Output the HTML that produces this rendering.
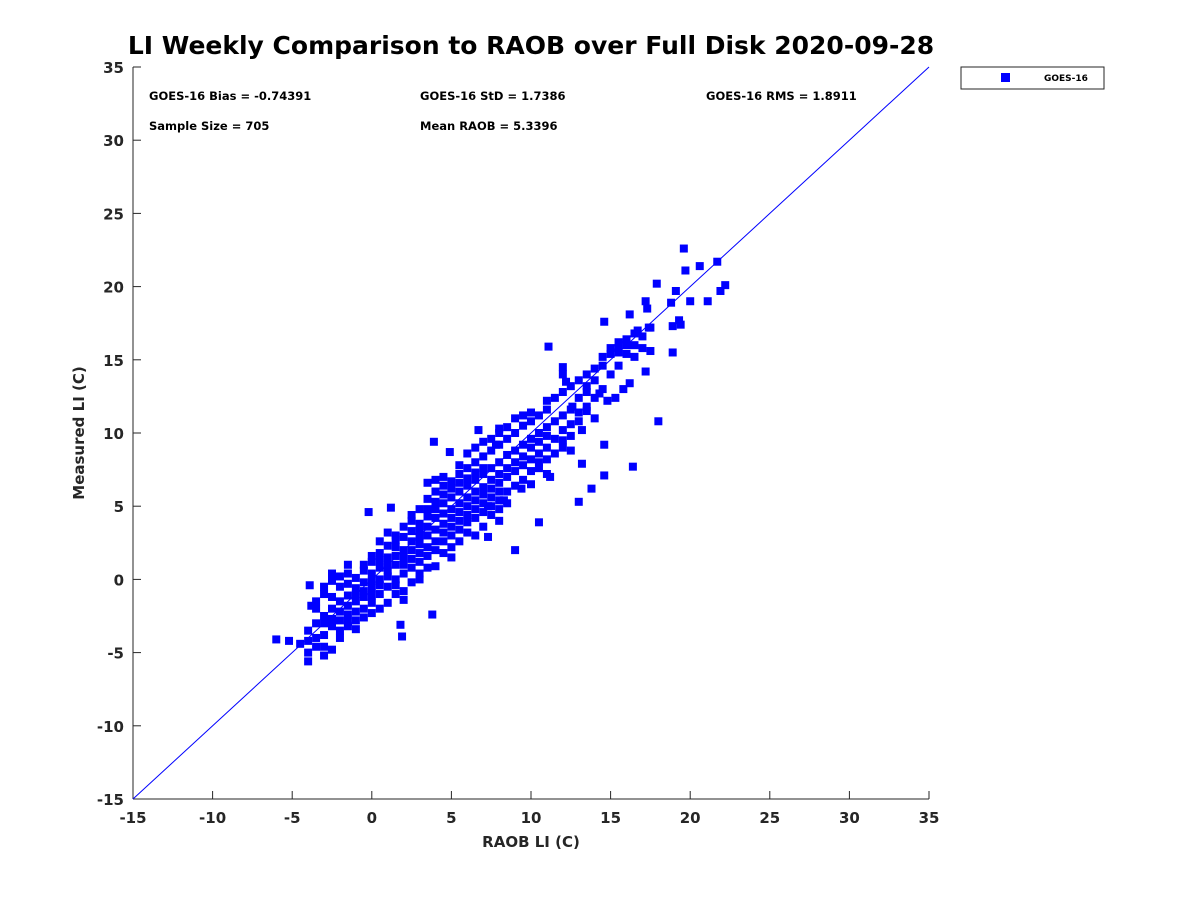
<!DOCTYPE html>
<html><head><meta charset="utf-8"><style>
body{margin:0;background:#fff;}
svg text{font-family:"DejaVu Sans","Liberation Sans",sans-serif;font-weight:bold;fill:#262626;}
</style></head><body>
<svg id="chart" width="1200" height="900" xmlns="http://www.w3.org/2000/svg">
<rect width="1200" height="900" fill="#fff"/>
<text x="531" y="54" font-size="25" text-anchor="middle" style="fill:#000">LI Weekly Comparison to RAOB over Full Disk 2020-09-28</text>
<g id="axes"></g>
<g id="marks"></g>
<g font-size="11.5">
<text x="149" y="100" style="fill:#000">GOES-16 Bias = -0.74391</text>
<text x="420" y="100" style="fill:#000">GOES-16 StD = 1.7386</text>
<text x="706" y="100" style="fill:#000">GOES-16 RMS = 1.8911</text>
<text x="149" y="130" style="fill:#000">Sample Size = 705</text>
<text x="420" y="130" style="fill:#000">Mean RAOB = 5.3396</text>
</g>
<g>
<rect x="961" y="67" width="143" height="22" fill="#fff" stroke="#262626" stroke-width="1"/>
<rect x="1001" y="73" width="9" height="9" fill="#0000ff"/>
<text x="1044" y="81" font-size="9" style="fill:#000">GOES-16</text>
</g>
<text x="531" y="847" font-size="15" text-anchor="middle">RAOB LI (C)</text>
<text transform="translate(84,433) rotate(-90)" font-size="15" text-anchor="middle">Measured LI (C)</text>
</svg>
<script>
const xTicks=[-15,-10,-5,0,5,10,15,20,25,30,35];
const yTicks=[-15,-10,-5,0,5,10,15,20,25,30,35];
const outlierX=[-6,-5.2,-4.5,-4,-3.9,-3.8,-3,-2.5,-1.5,-0.2,1.2,1.8,1.9,3.8,3.9,4.9,6.7,7.3,8,9.0,10.5,10.0,11.1,12.2,12.0,13.0,13.8,14.6,14.6,14.6,16.4,18,16.2,17.2,17.3,17.9,19.1,19.6,19.7,20.6,21.7,22.2,21.9,21.1,20.0,18.8,19.3,19.4,18.9,18.9,17.2,17.4,16.7,16,15.5,16.2,15.8,15.3,14.8,14.3,13.5,12.6,13.2,12,12.5,13.2,11.2,11.0,10.5,9.4,8.3,8.0,7.3,7.8];
const outlierY=[-4.1,-4.2,-4.4,-5.6,-0.4,-1.8,-5.2,0.4,1.0,4.6,4.9,-3.1,-3.9,-2.4,9.4,8.7,10.2,2.9,10.3,2.0,3.9,6.5,15.9,13.5,14.5,5.3,6.2,7.1,9.2,17.6,7.7,10.8,18.1,19.0,18.5,20.2,19.7,22.6,21.1,21.4,21.7,20.1,19.7,19.0,19.0,18.9,17.7,17.4,17.3,15.5,14.2,17.2,17,16,15.5,13.4,13.0,12.4,12.2,12.7,11.5,11.8,10.2,9.5,8.8,7.9,7.0,7.2,8,6.2,5.4,4.0,5,9.2];
const raobCols=[-4,-3.5,-3,-2.5,-2,-1.5,-1,-0.5,0,0.5,1,1.5,2,2.5,3,3.5,4,4.5,5,5.5,6,6.5,7,7.5,8,8.5,9,9.5,10,10.5,11,11.5,12,12.5,13,13.5,14,14.5,15,15.5,16,16.5,17,17.5];
const measuredByCol=[
[-5,-3.5,-4.2],[-3,-4.6,-2,-1.5,-4],[-1,-2.5,-3.8,-4.6,-0.5,-3],[-2,-3.2,-4.8,-1.2,-2.7,-0.1],
[-1.5,-2.8,-3.5,-0.5,-2.2,-4.0,0.2],[-2.4,-1.1,-3.2,-0.3,-1.8,-2.9,0.4],[-1.5,-0.6,-2.2,-2.8,0.1,-1.0,-3.4],
[-1.2,-0.2,-2.0,0.6,-2.6,-0.8,1.0],[-0.6,0.4,-1.6,1.2,-2.3,-0.1,1.6,-1.1],[0.0,-1.0,1.8,0.8,-2.0,2.6,-0.4,1.3],
[0.6,-0.5,1.5,2.3,-1.6,0.2,3.2,1.0],[1.0,0.0,2.2,-1.0,3.0,1.6,-0.4,2.7],[1.5,0.4,2.9,-0.8,3.6,2.0,-1.4,1.0],
[2.0,0.8,3.3,-0.2,4.4,1.4,2.6,4.0],[2.4,1.2,3.8,0.4,4.8,2.9,3.3,1.8,0.0],[3.0,1.6,4.3,5.5,2.2,3.6,0.8,6.6,4.8],
[3.4,2.0,4.8,6.0,2.6,4.2,0.9,5.3,6.8],[3.8,2.6,5.2,6.4,3.2,4.5,1.8,5.8,7.0],[4.2,3.0,5.6,6.7,2.2,4.8,3.6,6.2,1.5],
[4.6,3.4,6.0,7.2,5.2,2.6,6.6,4.0,7.8],[5.0,3.9,6.4,7.6,5.6,3.2,6.9,4.4,8.6],[5.4,4.2,6.8,8.0,6.0,3.0,7.3,4.8,9.0],
[5.8,4.6,7.2,8.4,6.3,3.6,7.6,5.2,9.4],[6.2,5.0,7.6,8.8,6.8,4.4,9.6,5.6],[6.6,5.4,8.0,9.2,7.2,4.8,10.0,6.0],
[7.0,6.0,8.5,9.6,7.6,10.4,5.2],[7.4,8.8,10.0,6.4,8.0,11.0],[7.8,9.2,10.5,6.8,8.4,11.2],[8.2,9.6,10.8,7.4,9.0,11.4],
[8.6,10.0,11.2,9.4,7.6],[9.0,10.4,11.6,8.2,9.8,12.2],[9.6,10.8,12.4,8.6],[10.2,11.2,12.8,9.0,14.0],[10.6,11.6,13.2,9.8],
[11.4,12.4,13.6,10.8],[11.8,12.8,14.0,13.2],[12.4,13.6,14.4,11.0],[13.0,14.6,15.2],[14.0,15.4,15.8],[14.6,15.8,16.2],
[15.4,16.4],[15.2,16.0,16.8],[15.8,16.6],[15.6,17.2]];
const NS='http://www.w3.org/2000/svg';
const L=133,R=929,T=67,B=799,xmin=-15,xmax=35,ymin=-15,ymax=35;
function sx(v){return L+(v-xmin)/(xmax-xmin)*(R-L);}
function sy(v){return B-(v-ymin)/(ymax-ymin)*(B-T);}
function mk(tag,attrs,parent){const e=document.createElementNS(NS,tag);for(const k in attrs)e.setAttribute(k,attrs[k]);parent.appendChild(e);return e;}
const axes=document.getElementById('axes');
const marks=document.getElementById('marks');
const xAxis=mk('line',{x1:L,x2:R,y1:B,y2:B,stroke:'#262626'},axes);


const yAxis=mk('line',{x1:L,x2:L,y1:T,y2:B,stroke:'#262626'},axes);


xTicks.forEach(t=>{
  const x=sx(t);
  const tk=mk('line',{x1:x,x2:x,y1:B,y2:B-8,stroke:'#262626'},axes);
  
  
  const lb=mk('text',{x:x,y:B+24,'font-size':15,'text-anchor':'middle'},axes);
  lb.textContent=t;
  
  
});
yTicks.forEach(t=>{
  const y=sy(t);
  const tk=mk('line',{x1:L,x2:L+8,y1:y,y2:y,stroke:'#262626'},axes);
  
  
  const lb=mk('text',{x:L-9,y:y+6,'font-size':15,'text-anchor':'end'},axes);
  lb.textContent=t;
  
  
});
const oneToOne=mk('line',{x1:sx(-15),y1:sy(-15),x2:sx(35),y2:sy(35),stroke:'#0000ff','stroke-width':1},marks);


function pt(x,y){
  const r=mk('rect',{x:sx(x)-4,y:sy(y)-4,width:8,height:8,fill:'#0000ff'},marks);
  
  
}
raobCols.forEach((x,i)=>measuredByCol[i].forEach(y=>pt(x,y)));
outlierX.forEach((x,i)=>pt(x,outlierY[i]));
</script>
</body></html>
